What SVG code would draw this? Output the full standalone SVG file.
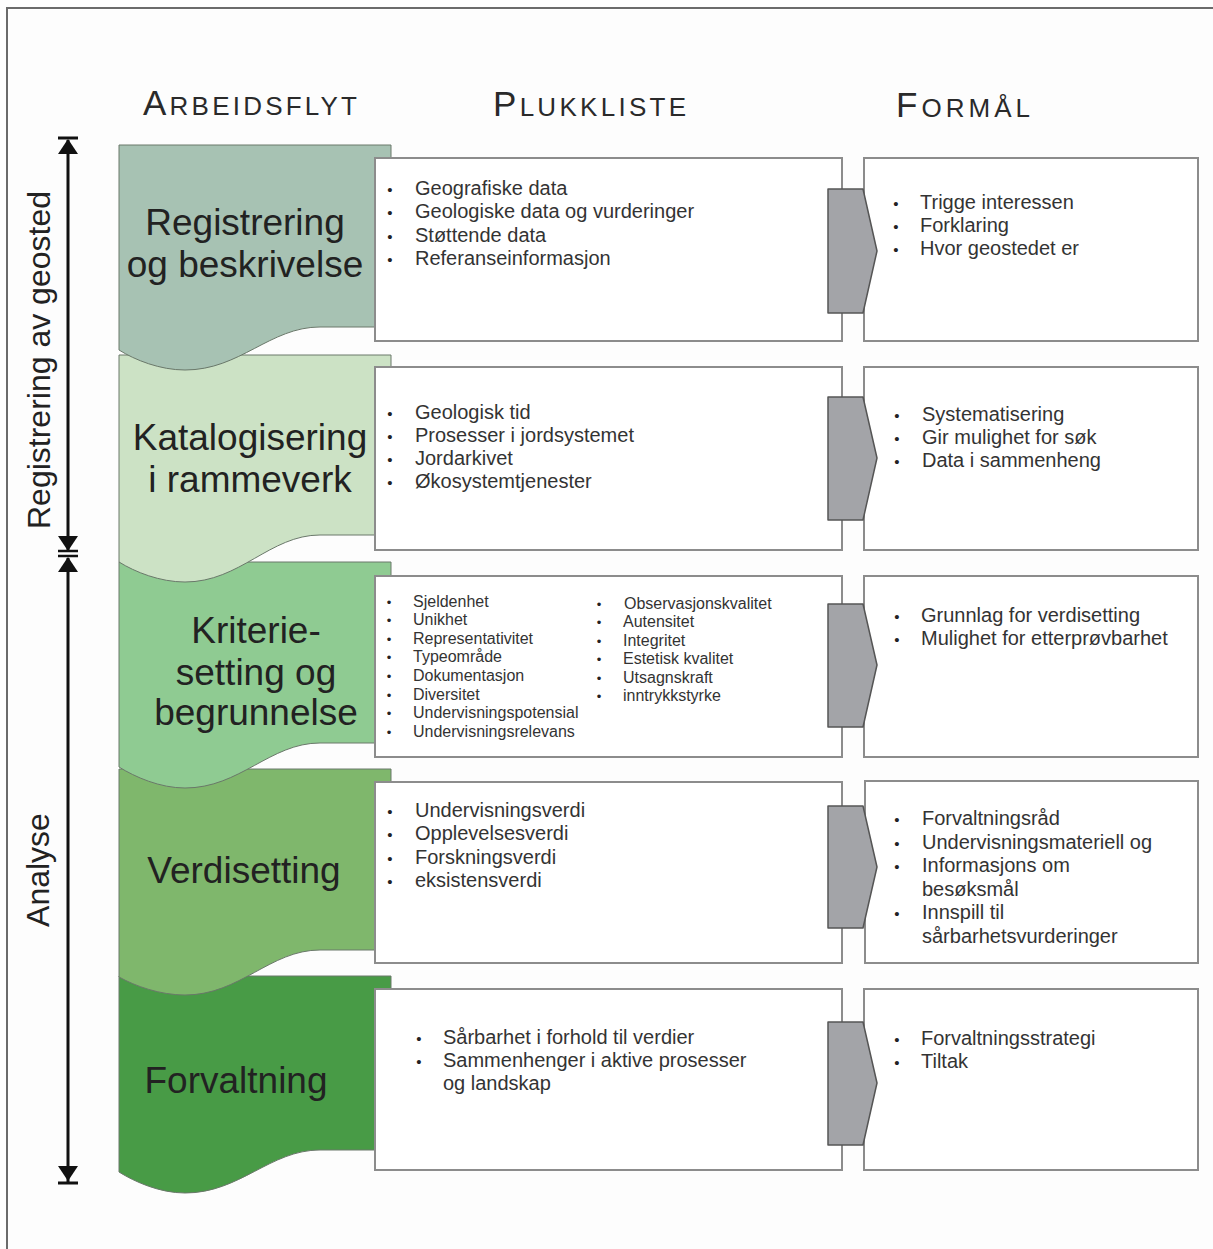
<svg xmlns="http://www.w3.org/2000/svg" width="1213" height="1249" viewBox="0 0 1213 1249">
<defs>
<style>
.hdr{font-family:"Liberation Sans",Arial,sans-serif;fill:#2a2a2a;font-size:26px}
.big{font-size:35px}
.lbl{font-family:"Liberation Sans",Arial,sans-serif;fill:#222;font-size:37px;text-anchor:middle}
.side{font-family:"Liberation Sans",Arial,sans-serif;fill:#222;font-size:32px;text-anchor:middle}
.t{font-family:"Liberation Sans",Arial,sans-serif;fill:#333;font-size:20px}
.s{font-family:"Liberation Sans",Arial,sans-serif;fill:#333;font-size:16px}
.b{font-family:"Liberation Sans",Arial,sans-serif;fill:#222;font-size:15px;text-anchor:middle}
.bs{font-family:"Liberation Sans",Arial,sans-serif;fill:#222;font-size:13px;text-anchor:middle}
.box{fill:#fff;stroke:#8c8c8c;stroke-width:2}
.wf{stroke:#6a786a;stroke-width:1}
.conn{fill:#a3a4a8;stroke:#555;stroke-width:1.5;stroke-linejoin:round}
.ax{stroke:#111;stroke-width:3;fill:none}
.ah{fill:#111}
</style>
</defs>
<rect x="0" y="0" width="1213" height="1249" fill="#fdfdfd"/>
<rect x="7" y="8" width="1230" height="1270" fill="none" stroke="#6a6a6a" stroke-width="2"/>

<!-- headers -->
<g id="headers">
<text class="hdr" x="143" y="115" textLength="214" lengthAdjust="spacing"><tspan class="big">A</tspan>RBEIDSFLYT</text>
<text class="hdr" x="493" y="116" textLength="193" lengthAdjust="spacing"><tspan class="big">P</tspan>LUKKLISTE</text>
<text class="hdr" x="896" y="117" textLength="134" lengthAdjust="spacing"><tspan class="big">F</tspan>ORMÅL</text>
</g>

<!-- side axes -->
<g id="axes">
<line class="ax" x1="68" y1="140" x2="68" y2="550"/>
<line x1="58" y1="138" x2="78" y2="138" stroke="#111" stroke-width="3"/>
<polygon class="ah" points="68,139 58,154 78,154"/>
<polygon class="ah" points="68,551 58,536 78,536"/>
<line x1="58" y1="551" x2="78" y2="551" stroke="#111" stroke-width="2.5"/>
<line class="ax" x1="68" y1="558" x2="68" y2="1182"/>
<line x1="58" y1="556" x2="78" y2="556" stroke="#111" stroke-width="2.5"/>
<polygon class="ah" points="68,557 58,572 78,572"/>
<polygon class="ah" points="68,1181 58,1166 78,1166"/>
<line x1="58" y1="1183" x2="78" y2="1183" stroke="#111" stroke-width="3"/>
<text class="side" transform="translate(50,360) rotate(-90)">Registrering av geosted</text>
<text class="side" transform="translate(49,870) rotate(-90)">Analyse</text>
</g>

<!-- workflow shapes (drawn bottom-up so upper waves overlap) -->
<g id="wf5"><path class="wf" fill="#489b46" d="M119,976 H391 V1150 H320 C270,1150 240,1193 185,1193 C160,1193 135,1182 119,1172 Z"/></g>
<g id="wf4"><path class="wf" fill="#7fb76c" d="M119,769 H391 V950 H320 C270,950 240,995 185,995 C160,995 135,986 119,977 Z"/></g>
<g id="wf3"><path class="wf" fill="#8fcb92" d="M119,562 H391 V743 H320 C270,743 240,788 185,788 C160,788 135,777 119,767 Z"/></g>
<g id="wf2"><path class="wf" fill="#cce2c5" d="M119,355 H391 V535 H320 C270,535 240,582 185,582 C160,582 135,572 119,562 Z"/></g>
<g id="wf1"><path class="wf" fill="#a7c2b3" d="M119,145 H391 V327 H320 C270,327 240,370 185,370 C160,370 135,360 119,350 Z"/></g>

<g id="wf-labels">
<text class="lbl" x="245" y="235">Registrering</text>
<text class="lbl" x="245" y="277">og beskrivelse</text>
<text class="lbl" x="250" y="450">Katalogisering</text>
<text class="lbl" x="250" y="492">i rammeverk</text>
<text class="lbl" x="256" y="643">Kriterie-</text>
<text class="lbl" x="256" y="685">setting og</text>
<text class="lbl" x="256" y="725">begrunnelse</text>
<text class="lbl" x="244" y="883">Verdisetting</text>
<text class="lbl" x="236" y="1093">Forvaltning</text>
</g>

<!-- pick list boxes -->
<g id="pl1"><rect class="box" x="375" y="158" width="467" height="183"/>
<text class="b" x="390" y="195">•</text><text class="t" x="415" y="195">Geografiske data</text>
<text class="b" x="390" y="218">•</text><text class="t" x="415" y="218">Geologiske data og vurderinger</text>
<text class="b" x="390" y="242">•</text><text class="t" x="415" y="242">Støttende data</text>
<text class="b" x="390" y="265">•</text><text class="t" x="415" y="265">Referanseinformasjon</text>
</g>
<g id="pl2"><rect class="box" x="375" y="367" width="467" height="183"/>
<text class="b" x="390" y="419">•</text><text class="t" x="415" y="419">Geologisk tid</text>
<text class="b" x="390" y="442">•</text><text class="t" x="415" y="442">Prosesser i jordsystemet</text>
<text class="b" x="390" y="465">•</text><text class="t" x="415" y="465">Jordarkivet</text>
<text class="b" x="390" y="488">•</text><text class="t" x="415" y="488">Økosystemtjenester</text>
</g>
<g id="pl3"><rect class="box" x="375" y="576" width="467" height="181"/>
<text class="bs" x="389" y="607">•</text><text class="s" x="413" y="607">Sjeldenhet</text>
<text class="bs" x="389" y="625">•</text><text class="s" x="413" y="625">Unikhet</text>
<text class="bs" x="389" y="644">•</text><text class="s" x="413" y="644">Representativitet</text>
<text class="bs" x="389" y="662">•</text><text class="s" x="413" y="662">Typeområde</text>
<text class="bs" x="389" y="681">•</text><text class="s" x="413" y="681">Dokumentasjon</text>
<text class="bs" x="389" y="700">•</text><text class="s" x="413" y="700">Diversitet</text>
<text class="bs" x="389" y="718">•</text><text class="s" x="413" y="718">Undervisningspotensial</text>
<text class="bs" x="389" y="737">•</text><text class="s" x="413" y="737">Undervisningsrelevans</text>
<text class="bs" x="599" y="609">•</text><text class="s" x="624" y="609">Observasjonskvalitet</text>
<text class="bs" x="599" y="627">•</text><text class="s" x="623" y="627">Autensitet</text>
<text class="bs" x="599" y="646">•</text><text class="s" x="623" y="646">Integritet</text>
<text class="bs" x="599" y="664">•</text><text class="s" x="623" y="664">Estetisk kvalitet</text>
<text class="bs" x="599" y="683">•</text><text class="s" x="623" y="683">Utsagnskraft</text>
<text class="bs" x="599" y="701">•</text><text class="s" x="623" y="701">inntrykkstyrke</text>
</g>
<g id="pl4"><rect class="box" x="375" y="782" width="467" height="181"/>
<text class="b" x="390" y="817">•</text><text class="t" x="415" y="817">Undervisningsverdi</text>
<text class="b" x="390" y="840">•</text><text class="t" x="415" y="840">Opplevelsesverdi</text>
<text class="b" x="390" y="864">•</text><text class="t" x="415" y="864">Forskningsverdi</text>
<text class="b" x="390" y="887">•</text><text class="t" x="415" y="887">eksistensverdi</text>
</g>
<g id="pl5"><rect class="box" x="375" y="989" width="467" height="181"/>
<text class="b" x="419" y="1044">•</text><text class="t" x="443" y="1044">Sårbarhet i forhold til verdier</text>
<text class="b" x="419" y="1067">•</text><text class="t" x="443" y="1067">Sammenhenger i aktive prosesser</text>
<text class="t" x="443" y="1090">og landskap</text>
</g>

<!-- purpose boxes -->
<g id="fm1"><rect class="box" x="864" y="158" width="334" height="183"/>
<text class="b" x="896" y="209">•</text><text class="t" x="920" y="209">Trigge interessen</text>
<text class="b" x="896" y="232">•</text><text class="t" x="920" y="232">Forklaring</text>
<text class="b" x="896" y="255">•</text><text class="t" x="920" y="255">Hvor geostedet er</text>
</g>
<g id="fm2"><rect class="box" x="864" y="367" width="334" height="183"/>
<text class="b" x="897" y="421">•</text><text class="t" x="922" y="421">Systematisering</text>
<text class="b" x="897" y="444">•</text><text class="t" x="922" y="444">Gir mulighet for søk</text>
<text class="b" x="897" y="467">•</text><text class="t" x="922" y="467">Data i sammenheng</text>
</g>
<g id="fm3"><rect class="box" x="864" y="576" width="334" height="181"/>
<text class="b" x="897" y="622">•</text><text class="t" x="921" y="622">Grunnlag for verdisetting</text>
<text class="b" x="897" y="645">•</text><text class="t" x="921" y="645">Mulighet for etterprøvbarhet</text>
</g>
<g id="fm4"><rect class="box" x="865" y="781" width="333" height="182"/>
<text class="b" x="897" y="825">•</text><text class="t" x="922" y="825">Forvaltningsråd</text>
<text class="b" x="897" y="849">•</text><text class="t" x="922" y="849">Undervisningsmateriell og</text>
<text class="b" x="897" y="872">•</text><text class="t" x="922" y="872">Informasjons om</text>
<text class="t" x="922" y="896">besøksmål</text>
<text class="b" x="897" y="919">•</text><text class="t" x="922" y="919">Innspill til</text>
<text class="t" x="922" y="943">sårbarhetsvurderinger</text>
</g>
<g id="fm5"><rect class="box" x="864" y="989" width="334" height="181"/>
<text class="b" x="897" y="1045">•</text><text class="t" x="921" y="1045">Forvaltningsstrategi</text>
<text class="b" x="897" y="1068">•</text><text class="t" x="921" y="1068">Tiltak</text>
</g>

<!-- connectors -->
<g id="connectors">
<path class="conn" d="M828,189 H863 L877,251 L863,313 H828 Z"/>
<path class="conn" d="M828,397 H863 L877,458 L863,520 H828 Z"/>
<path class="conn" d="M828,604 H863 L877,665 L863,727 H828 Z"/>
<path class="conn" d="M828,806 H863 L877,867 L863,928 H828 Z"/>
<path class="conn" d="M828,1022 H863 L877,1083 L863,1145 H828 Z"/>
</g>
</svg>
